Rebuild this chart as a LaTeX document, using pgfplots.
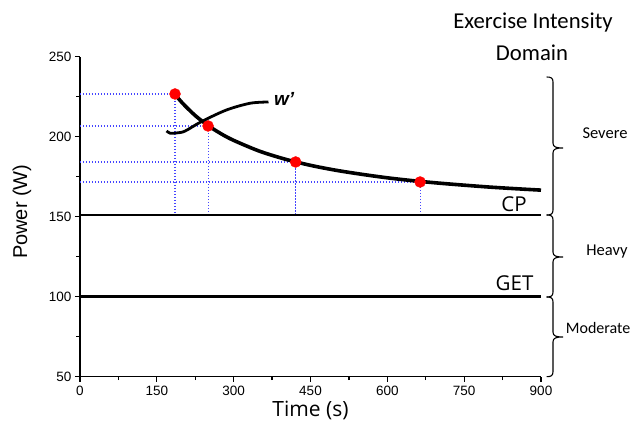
\documentclass[border=0pt]{standalone}
\usepackage{fontspec}
\setmainfont{Liberation Sans}
\newfontfamily\carlito{Carlito}
\newfontfamily\opensans{Open Sans}
\usepackage{pgfplots}
\pgfplotsset{compat=1.18}
\definecolor{dotblue}{RGB}{70,70,255}
\begin{document}
\begin{tikzpicture}
\useasboundingbox (-80pt,-53.3pt) rectangle (553pt,376.7pt);
\begin{axis}[
  scale only axis, width=461pt, height=320pt,
  xmin=0, xmax=900, ymin=50, ymax=250,
  clip=false,
  axis x line*=bottom, axis y line*=left,
  axis line style={line width=1.3pt},
  xtick={0,150,...,900}, ytick={50,100,...,250},
  minor x tick num=1, minor y tick num=1,
  tick align=outside,
  major tick length=5pt, minor tick length=3.5pt,
  every tick/.style={black, line width=1.2pt},
  tick label style={font=\fontsize{13.5}{15}\selectfont},
  /pgf/number format/assume math mode=true,
  xticklabel style={yshift=-1pt},
  yticklabel style={xshift=0pt},
]
% dotted guides
\addplot[dotblue, line width=1.1pt, dash pattern=on 1.2pt off 1.8pt] coordinates {(0,226.7) (185.5,226.7) (185.5,151)};
\addplot[dotblue, line width=1.1pt, dash pattern=on 1.2pt off 1.8pt] coordinates {(0,206.7) (250,206.7) (250,151)};
\addplot[dotblue, line width=1.1pt, dash pattern=on 1.2pt off 1.8pt] coordinates {(0,184.2) (421,184.2) (421,151)};
\addplot[dotblue, line width=1.1pt, dash pattern=on 1.2pt off 1.8pt] coordinates {(0,171.7) (664,171.7) (664,151)};
% CP and GET
\addplot[black, line width=2.4pt] coordinates {(0,151) (900,151)};
\addplot[black, line width=2.4pt] coordinates {(0,100) (900,100)};
% power-duration curve
\addplot[black, line width=3.6pt, smooth] coordinates {
 (185,226.7) (200,221.0) (225,213.2) (250,207.0) (275,201.9) (300,197.7)
 (350,191.0) (400,186.0) (450,182.1) (500,179.0) (550,176.5) (600,174.3)
 (650,172.5) (700,171.0) (750,169.7) (800,168.5) (850,167.5) (900,166.6)};
% W' curve
\addplot[black, line width=2.8pt, smooth, tension=0.5] coordinates {
 (169,203.6) (176,202.2) (190,202.4) (205,203.5) (237,209.4) (286,216.7) (332,220.9) (368,221.7)};
% measured points
\addplot[only marks, mark=*, mark size=5.5pt, color=red, mark options={fill=red, draw=red}] coordinates {
 (185.5,226.7) (250,206.7) (421,184.2) (664,171.7)};
\node[anchor=west, font=\fontsize{19}{21}\selectfont\bfseries\itshape] at (axis cs:372,223.5) {w'};
\node[anchor=base east, font=\opensans\fontsize{20.5}{22}\selectfont] at (axis cs:879,153.2) {CP};
\node[anchor=base east, font=\opensans\fontsize{20.5}{22}\selectfont] at (axis cs:892,103.7) {GET};
\end{axis}
% axis labels
\node[font=\opensans\fontsize{21}{24}\selectfont] at (230.5pt,-34pt) {Time (s)};
\node[rotate=90, font=\fontsize{20}{23}\selectfont] at (-58pt,165pt) {Power (W)};
% title
\node[font=\carlito\fontsize{22.7}{26}\selectfont] at (453pt,354pt) {Exercise Intensity};
\node[font=\carlito\fontsize{22.7}{26}\selectfont] at (452pt,324pt) {Domain};
% braces
\foreach \t/\c/\b in {299.7/228.7/161.7, 161.7/119.7/79.7, 79.7/39.7/0} {
  \draw[line width=1.1pt] (466.7pt,\t pt) .. controls (471pt,\t pt) and (473pt,\t pt-1pt) .. (473pt,\t pt-5pt)
    -- (473pt,\c pt+5pt) .. controls (473pt,\c pt+1pt) and (476pt,\c pt) .. (483pt,\c pt)
    .. controls (476pt,\c pt) and (473pt,\c pt-1pt) .. (473pt,\c pt-5pt)
    -- (473pt,\b pt+5pt) .. controls (473pt,\b pt+1pt) and (471pt,\b pt) .. (466.7pt,\b pt);
}
\node[font=\carlito\fontsize{16.5}{19}\selectfont] at (525pt,243.7pt) {Severe};
\node[font=\carlito\fontsize{16.5}{19}\selectfont] at (527pt,124.7pt) {Heavy};
\node[anchor=east, inner sep=0pt, font=\carlito\fontsize{16}{19}\selectfont] at (550.5pt,48.7pt) {Moderate};
\end{tikzpicture}
\end{document}
